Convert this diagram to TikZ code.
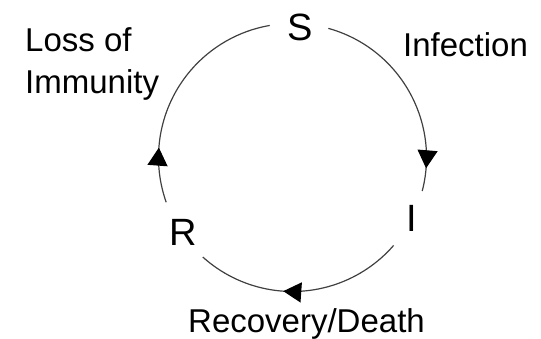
\documentclass[tikz,border=0pt]{standalone}
\usepackage{fontspec}
\setmainfont{Liberation Sans}
\usetikzlibrary{arrows.meta,decorations.markings,calc}
\tikzset{
  cyc/.style={draw=black!75, line width=1.2pt},
  tipmark/.style={postaction={decorate, decoration={markings,
     mark=at position #1 with {\arrow[black]{Triangle[length=18pt 0,width=20pt 0]}}}}},
  state/.style={font=\fontsize{38}{44}\selectfont, inner sep=0pt},
  lbl/.style={font=\fontsize{33}{40}\selectfont, inner sep=0pt},
}
\begin{document}
\begin{tikzpicture}[x=1pt,y=1pt]
\useasboundingbox (0,0) rectangle (541,339);
\coordinate (c) at (292.5,181.5);
\node[state, anchor=base] (S) at (300,298) {S};
\node[state, anchor=base] (I) at (412,107) {I};
\node[state, anchor=base] (R) at (183,93) {R};
\node[lbl, anchor=base west] (inf) at (403,282) {Infection};
\node[lbl, anchor=base west] (loss) at (25,287) {Loss of};
\node[lbl, anchor=base west] (imm) at (25,245) {Immunity};
\node[lbl, anchor=base west] (rec) at (188,6) {Recovery/Death};
\draw[cyc, tipmark=0.889] ($(c)+(74.5:134)$) arc[start angle=74.5, end angle=-14.5, radius=134];
\draw[cyc, tipmark=0.582] ($(c)+(-41:134)$) arc[start angle=-41, end angle=-132, radius=134];
\draw[cyc, tipmark=0.238] ($(c)+(199.5:134)$) arc[start angle=199.5, end angle=99.8, radius=134];
\end{tikzpicture}
\end{document}
